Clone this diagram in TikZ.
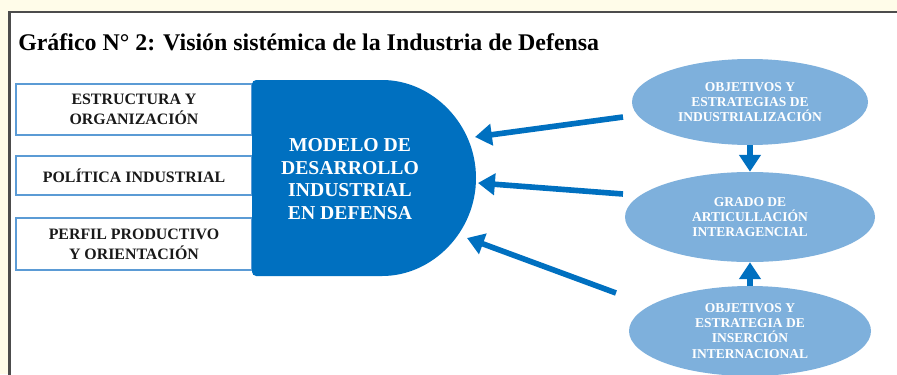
\documentclass[tikz,border=0pt]{standalone}
\usepackage{fontspec}
\setmainfont{Liberation Serif}
\usetikzlibrary{shapes.geometric,arrows.meta}

\definecolor{azulmodelo}{RGB}{0,112,192}
\definecolor{celeste}{RGB}{126,176,220}
\definecolor{bordecaja}{RGB}{91,155,213}
\definecolor{crema}{RGB}{255,252,233}

\tikzset{
  caja/.style={draw=bordecaja, line width=1pt, fill=white, minimum width=5.9cm,
    inner sep=0pt, align=center, text=black!90,
    font=\bfseries\fontsize{11.3}{14}\selectfont},
  elipse/.style={ellipse, fill=celeste, inner sep=0pt, align=center, text=white,
    font=\bfseries\fontsize{9.6}{10.8}\selectfont},
  flecha/.style={draw=azulmodelo, line width=4pt,
    -{Triangle[length=12pt,width=15pt,fill=azulmodelo]}}
}

\begin{document}
\begin{tikzpicture}
  \clip (0cm,0cm) rectangle (22.425cm,-9.35cm);
  % marco
  \fill[crema] (0cm,0cm) rectangle (22.425cm,-9.35cm);
  \fill[white] (0.24cm,-0.3cm) rectangle (22.5cm,-9.4cm);
  \draw[black!70, line width=2pt] (0.24cm,-9.4cm) -- (0.24cm,-0.3cm) -- (22.5cm,-0.3cm);
  \node[anchor=base west, inner sep=0pt, font=\bfseries\fontsize{17}{20}\selectfont] (titulo)
    at (0.45cm,-1.25cm) {Gráfico N° 2: Visión sistémica de la Industria de Defensa};

  % cajas de la izquierda
  \node[caja, minimum height=1.275cm] (estructura) at (3.35cm,-2.7375cm) {ESTRUCTURA Y\\ORGANIZACIÓN};
  \node[caja, minimum height=0.975cm] (politica) at (3.35cm,-4.3875cm) {POLÍTICA INDUSTRIAL};
  \node[caja, minimum height=1.3cm] (perfil) at (3.35cm,-6.1cm) {PERFIL PRODUCTIVO\\Y ORIENTACIÓN};

  % modelo
  \fill[azulmodelo, rounded corners=3pt] (6.3cm,-2cm) -- (9.45cm,-2cm)
    arc[start angle=90, end angle=-90, radius=2.45cm] -- (6.3cm,-6.9cm) -- cycle;
  \node[align=center, text=white, font=\bfseries\fontsize{14}{16}\selectfont] (modelo)
    at (8.75cm,-4.475cm) {MODELO DE\\DESARROLLO\\INDUSTRIAL\\EN DEFENSA};

  % elipses
  \node[elipse, minimum width=5.9cm, minimum height=2.15cm] (objind) at (18.75cm,-2.55cm)
    {OBJETIVOS Y\\ESTRATEGIAS DE\\INDUSTRIALIZACIÓN};
  \node[elipse, minimum width=6.25cm, minimum height=2.25cm] (grado) at (18.75cm,-5.425cm)
    {GRADO DE\\ARTICULLACIÓN\\INTERAGENCIAL};
  \node[elipse, minimum width=6.05cm, minimum height=2.25cm] (objint) at (18.75cm,-8.275cm)
    {OBJETIVOS Y\\ESTRATEGIA DE\\INSERCIÓN\\INTERNACIONAL};

  % flechas
  \coordinate (ind-sal) at (15.575cm,-2.925cm);
  \coordinate (gra-sal) at (15.575cm,-4.85cm);
  \coordinate (int-sal) at (15.4cm,-7.325cm);
  \coordinate (mod-e1) at (11.875cm,-3.425cm);
  \coordinate (mod-e2) at (11.95cm,-4.575cm);
  \coordinate (mod-e3) at (11.675cm,-5.95cm);
  \draw[flecha] (ind-sal) -- (mod-e1);
  \draw[flecha] (gra-sal) -- (mod-e2);
  \draw[flecha] (int-sal) -- (mod-e3);
  \draw[flecha] (objind) -- (grado);
  \draw[flecha] (objint) -- (grado);
\end{tikzpicture}
\end{document}
